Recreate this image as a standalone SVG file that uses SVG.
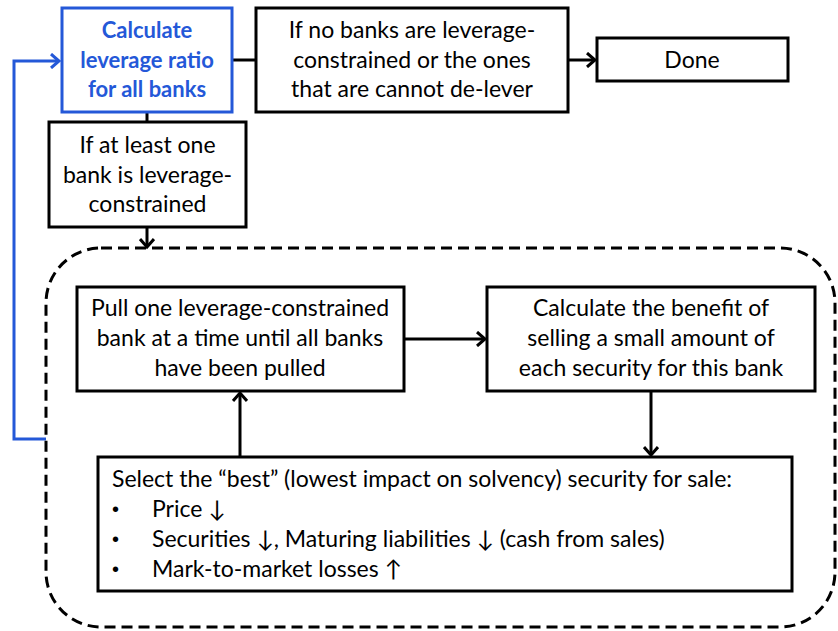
<svg xmlns="http://www.w3.org/2000/svg" width="838" height="631" viewBox="0 0 838 631">
<defs>
<style>
.box{fill:#fff;stroke:#000;stroke-width:3}
.bbox{fill:#fff;stroke:#2458D8;stroke-width:3}
.t{font-family:Lato,"Liberation Sans",sans-serif;font-size:23px;fill:#000;text-anchor:middle}
.tl{font-family:Lato,"Liberation Sans",sans-serif;font-size:23px;fill:#000}
.bu{font-family:"Liberation Sans",sans-serif;font-size:20px;fill:#000}
.bt{font-family:Lato,"Liberation Sans",sans-serif;font-size:22px;font-weight:bold;fill:#2458D8;text-anchor:middle}
.c{fill:none;stroke:#000;stroke-width:3}
.cb{fill:none;stroke:#2458D8;stroke-width:3}
</style>
<marker id="ah" markerUnits="userSpaceOnUse" markerWidth="12" markerHeight="16" refX="9" refY="8" orient="auto">
<path d="M1,1 L9,8 L1,15" fill="none" stroke="#000" stroke-width="3"/>
</marker>
<marker id="ahb" markerUnits="userSpaceOnUse" markerWidth="12" markerHeight="16" refX="9" refY="8" orient="auto">
<path d="M1,1 L9,8 L1,15" fill="none" stroke="#2458D8" stroke-width="3"/>
</marker>
</defs>
<rect width="838" height="631" fill="#fff"/>
<g id="connectors">
<line class="c" x1="232" y1="60" x2="256" y2="60"/>
<line class="c" x1="568" y1="60" x2="595" y2="60" marker-end="url(#ah)"/>
<line class="c" x1="147" y1="112" x2="147" y2="122"/>
<line class="c" x1="147" y1="227" x2="147" y2="247" marker-end="url(#ah)"/>
<line class="c" x1="404" y1="339" x2="485" y2="339" marker-end="url(#ah)"/>
<line class="c" x1="651" y1="391" x2="651" y2="455" marker-end="url(#ah)"/>
<line class="c" x1="240" y1="457" x2="240" y2="393" marker-end="url(#ah)"/>
<polyline class="cb" points="46,439 14,439 14,61 59,61" marker-end="url(#ahb)"/>
</g>
<g id="loop-region">
<rect x="46" y="248" width="789" height="379" rx="55" ry="55" fill="none" stroke="#000" stroke-width="3" stroke-dasharray="11 6"/>
</g>
<g id="calc-leverage">
<rect class="bbox" x="62" y="8" width="170" height="104"/>
<text class="bt" x="147" y="38">Calculate</text>
<text class="bt" x="147" y="68">leverage ratio</text>
<text class="bt" x="147" y="97">for all banks</text>
</g>
<g id="no-banks">
<rect class="box" x="256" y="8" width="312" height="104"/>
<text class="t" x="412" y="38">If no banks are leverage-</text>
<text class="t" x="412" y="68">constrained or the ones</text>
<text class="t" x="412" y="97">that are cannot de-lever</text>
</g>
<g id="done">
<rect class="box" x="597" y="38" width="191" height="43"/>
<text class="t" x="692" y="68">Done</text>
</g>
<g id="at-least-one">
<rect class="box" x="49" y="122" width="197" height="105"/>
<text class="t" x="147.5" y="153">If at least one</text>
<text class="t" x="147.5" y="183">bank is leverage-</text>
<text class="t" x="147.5" y="212">constrained</text>
</g>
<g id="pull-bank">
<rect class="box" x="77" y="287" width="327" height="104"/>
<text class="t" x="240" y="316">Pull one leverage-constrained</text>
<text class="t" x="240" y="346">bank at a time until all banks</text>
<text class="t" x="240" y="376">have been pulled</text>
</g>
<g id="calc-benefit">
<rect class="box" x="487" y="287" width="328" height="104"/>
<text class="t" x="651" y="316">Calculate the benefit of</text>
<text class="t" x="651" y="346">selling a small amount of</text>
<text class="t" x="651" y="376">each security for this bank</text>
</g>
<g id="select-best">
<rect class="box" x="98" y="457" width="694" height="134"/>
<text class="tl" x="112" y="487">Select the “best” (lowest impact on solvency) security for sale:</text>
<text class="bu" x="112" y="516">•</text>
<text class="tl" x="152" y="517">Price ↓</text>
<text class="bu" x="112" y="546">•</text>
<text class="tl" x="152" y="547">Securities ↓, Maturing liabilities ↓ (cash from sales)</text>
<text class="bu" x="112" y="576">•</text>
<text class="tl" x="152" y="577">Mark-to-market losses ↑</text>
</g>
</svg>
